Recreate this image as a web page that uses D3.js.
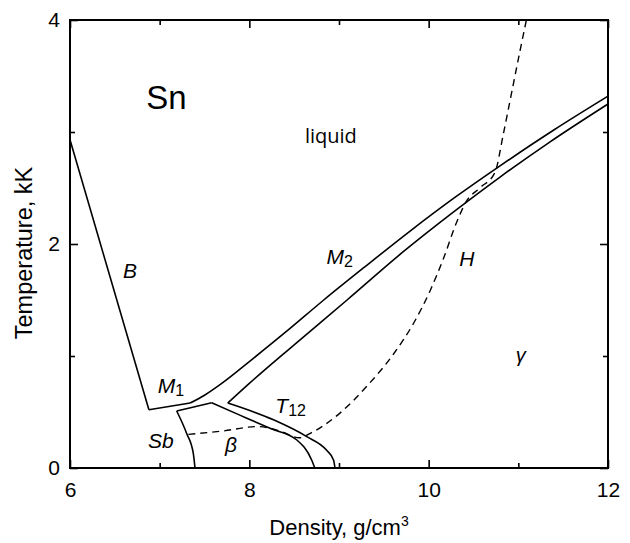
<!DOCTYPE html>
<html>
<head>
<meta charset="utf-8">
<script src="https://cdn.jsdelivr.net/npm/d3@7"></script>
<style>
  body { margin: 0; background: #fff; }
  text { font-family: "Liberation Sans", Arial, sans-serif; fill: #000; }
</style>
</head>
<body>
<div id="chart"></div>
<script>
// ticks
var xMajor = [6, 8, 10, 12], xMinor = [7, 9, 11];
var yMajor = [0, 2, 4], yMinor = [1, 3];

// phase lines, [density g/cm3, temperature kK]
var lineB = [[6.0, 2.93], [6.88, 0.52]];
var lineM1 = [[6.88, 0.52], [7.34, 0.58]];
var meltUpper = [[7.34, 0.58], [7.5, 0.65], [7.7, 0.76], [8.0, 0.95], [8.4, 1.21], [8.83, 1.5],
  [9.31, 1.81], [9.8, 2.12], [10.3, 2.42], [10.8, 2.70], [11.4, 3.02], [12.0, 3.32]];
var meltLower = [[7.76, 0.58], [8.0, 0.755], [8.5, 1.1], [9.09, 1.5], [9.7, 1.92], [10.3, 2.30],
  [10.8, 2.60], [11.35, 2.91], [12.0, 3.25]];
var sbTop = [[7.19, 0.509], [7.58, 0.583]];
var sbBeta = [[7.19, 0.509], [7.30, 0.31], [7.375, 0.13], [7.394, 0]];
var betaLine = [[7.58, 0.583], [7.9, 0.47], [8.23, 0.354], [8.53, 0.25], [8.695, 0.071], [8.73, 0]];
var t12Line = [[7.76, 0.58], [8.27, 0.43], [8.64, 0.28], [8.86, 0.16], [8.94, 0.07], [8.955, 0]];
var hugoniot = [[7.32, 0.30], [7.7, 0.33], [8.09, 0.37], [8.34, 0.33], [8.56, 0.27], [8.68, 0.31],
  [9.01, 0.49], [9.31, 0.73], [9.61, 1.02], [9.83, 1.29], [10.02, 1.59], [10.16, 1.86],
  [10.31, 2.19], [10.42, 2.38], [10.57, 2.50], [10.74, 2.64], [10.83, 2.97], [10.91, 3.29],
  [11.02, 3.73], [11.09, 4.0]];

// region labels: text, subscript, anchor [density, T]
var labels = [
  { t: "B", sub: "", at: [6.59, 1.70] },
  { t: "M", sub: "1", at: [6.98, 0.67] },
  { t: "M", sub: "2", at: [8.86, 1.82] },
  { t: "T", sub: "12", at: [8.29, 0.49] },
  { t: "Sb", sub: "", at: [6.87, 0.18] },
  { t: "H", sub: "", at: [10.34, 1.80] }
];

var margin = { top: 20, right: 22, bottom: 75, left: 70 },
  width = 630 - margin.left - margin.right,
  height = 543 - margin.top - margin.bottom;

var svg = d3.select("#chart").append("svg")
  .attr("width", 630)
  .attr("height", 543);

var g = svg.append("g")
  .attr("transform", "translate(" + margin.left + "," + margin.top + ")");

var x = d3.scaleLinear().domain([6, 12]).range([0, width]);
var y = d3.scaleLinear().domain([0, 4]).range([height, 0]);

// axes, ticks inside on all four sides
function addAxis(axis, tr, vals, size, labelled) {
  var a = g.append("g")
    .attr("transform", tr)
    .call(axis.tickValues(vals).tickSizeInner(size).tickSizeOuter(0)
      .tickFormat(labelled ? d3.format("d") : ""));
  a.select(".domain").remove();
  a.selectAll("line").attr("stroke", "#000").attr("stroke-width", 1.6);
  a.selectAll("text").style("font-size", "21px");
  return a;
}
var bx = addAxis(d3.axisBottom(x), "translate(0," + height + ")", xMajor, -8, true);
bx.selectAll("text").attr("y", 14).attr("dy", "0.71em");
addAxis(d3.axisBottom(x), "translate(0," + height + ")", xMinor, -5, false);
addAxis(d3.axisTop(x), "translate(0,0)", xMajor, -8, false);
addAxis(d3.axisTop(x), "translate(0,0)", xMinor, -5, false);
var ly = addAxis(d3.axisLeft(y), "translate(0,0)", yMajor, -8, true);
ly.selectAll("text").attr("x", -10);
addAxis(d3.axisLeft(y), "translate(0,0)", yMinor, -5, false);
addAxis(d3.axisRight(y), "translate(" + width + ",0)", yMajor, -8, false);
addAxis(d3.axisRight(y), "translate(" + width + ",0)", yMinor, -5, false);

g.append("rect")
  .attr("width", width).attr("height", height)
  .attr("fill", "none").attr("stroke", "#000").attr("stroke-width", 2);

// curves
var line = d3.line()
  .x(function (d) { return x(d[0]); })
  .y(function (d) { return y(d[1]); })
  .curve(d3.curveMonotoneX);

[lineB, lineM1, meltUpper, meltLower, sbTop, sbBeta, betaLine, t12Line].forEach(function (d) {
  g.append("path").datum(d)
    .attr("d", line)
    .attr("fill", "none")
    .attr("stroke", "#000")
    .attr("stroke-width", 1.6);
});

g.append("path").datum(hugoniot)
  .attr("d", line)
  .attr("fill", "none")
  .attr("stroke", "#000")
  .attr("stroke-width", 1.4)
  .attr("stroke-dasharray", "7,5");

// labels
labels.forEach(function (d) {
  var t = g.append("text")
    .attr("x", x(d.at[0]))
    .attr("y", y(d.at[1]))
    .style("font-size", "21px")
    .style("font-style", "italic")
    .text(d.t);
  if (d.sub) {
    t.append("tspan")
      .attr("dy", 3)
      .style("font-size", "16px")
      .style("font-style", "normal")
      .text(d.sub);
  }
});

g.append("text")
  .attr("x", x(7.73)).attr("y", y(0.14))
  .style("font-size", "21px").style("font-style", "italic")
  .text("\u03b2");

g.append("text")
  .attr("x", x(10.97)).attr("y", y(0.95))
  .style("font-size", "20px").style("font-style", "italic")
  .text("\u03b3");

g.append("text")
  .attr("x", x(6.85)).attr("y", y(3.205))
  .style("font-size", "33px")
  .text("Sn");

g.append("text")
  .attr("x", x(8.62)).attr("y", y(2.90))
  .style("font-family", "'Open Sans', sans-serif")
  .style("font-size", "20px")
  .text("liquid");

// axis titles
var xt = svg.append("text")
  .attr("x", margin.left + width / 2)
  .attr("y", 535)
  .attr("text-anchor", "middle")
  .style("font-size", "22px")
  .text("Density, g/cm");
xt.append("tspan").attr("dy", -9).style("font-size", "14px").text("3");

svg.append("text")
  .attr("transform", "translate(32,253) rotate(-90)")
  .attr("text-anchor", "middle")
  .style("font-size", "23.5px")
  .text("Temperature, kK");
</script>
</body>
</html>
